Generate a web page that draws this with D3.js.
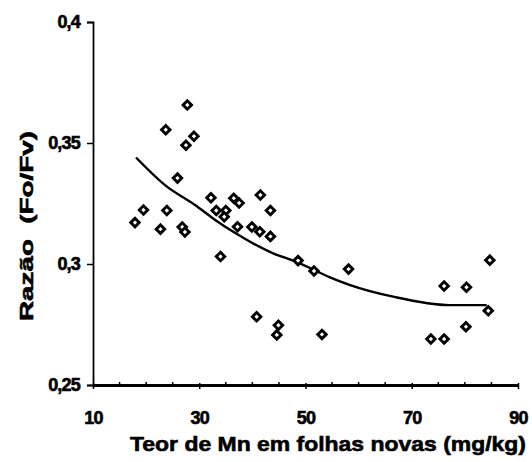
<!DOCTYPE html>
<head>
  <style>
    body { margin: 0; background: #fff; }
    text { font-family: "Liberation Sans", Arial, sans-serif; font-weight: bold; fill: #000; stroke: #000; stroke-width: 0.6px; }
  </style>
</head>
<title>Razão Fo/Fv x Teor de Mn</title>
<body>
<script src="https://cdn.jsdelivr.net/npm/d3@7"></script>
<script>

    // pontos
    var mn = [17.9, 19.5, 22.7, 23.9, 26.8, 27.3, 23.7, 27.75, 27.5, 29.0,
              25.9, 32.2, 36.5, 37.5, 41.5, 33.2, 35.0, 34.7, 37.2, 39.9,
              41.4, 43.4, 43.4, 34.0, 48.6, 51.6, 58.1, 40.8, 44.9, 44.6,
              53.1, 76.1, 80.3, 84.7, 84.4, 80.2, 73.6, 76.1];
    var razao = [0.3171, 0.3223, 0.3144, 0.3221, 0.3153, 0.3132, 0.3555, 0.3657, 0.3491, 0.3528,
                 0.3355, 0.3274, 0.3272, 0.3252, 0.3285, 0.3221, 0.3221, 0.3195, 0.3154, 0.3153,
                 0.3133, 0.3221, 0.3114, 0.3031, 0.3014, 0.2971, 0.2979, 0.2782, 0.2747, 0.2707,
                 0.2709, 0.2909, 0.2904, 0.3016, 0.2807, 0.2741, 0.2690, 0.2690];

    // linha de tendencia
    var trendMn = [18.1, 23.55, 29.2, 33.0, 36.4, 43.9, 48.3, 54.6, 58.4, 66.5, 77.2, 84.1];
    var trendRazao = [0.3440, 0.3326, 0.3244, 0.3182, 0.3133, 0.3044, 0.3009, 0.2945, 0.2913, 0.2865, 0.2830, 0.2830];

    var xTicks = [10, 30, 50, 70, 90];
    var xMinorTicks = [15, 20, 25, 35, 40, 45, 55, 60, 65, 75, 80, 85];
    var yTicks = [0.25, 0.3, 0.35, 0.4];
    var yTickLabels = ["0,25", "0,3", "0,35", "0,4"];

    var m = {t: 22, r: 14, b: 77, l: 93};
    var w = 532 - m.l - m.r;
    var h = 462 - m.t - m.b;

    var x = d3.scaleLinear().range([0, w]).domain([10, 90]);
    var y = d3.scaleLinear().range([h, 0]).domain([0.25, 0.4]);

    var svg = d3.select("body")
                .append("svg")
                  .attr("width", w + m.l + m.r)
                  .attr("height", h + m.t + m.b)
                .append("g")
                  .attr("transform", "translate(" + m.l + "," + m.t + ")");

    // eixo Y
    var yAxis = d3.axisLeft(y)
                  .tickValues(yTicks)
                  .tickSize(6)
                  .tickPadding(7)
                  .tickFormat(function(d, i) { return yTickLabels[i]; });
    var gy = svg.append("g").attr("id", "y_axis").call(yAxis);
    gy.select(".domain").attr("stroke-width", 1.8);
    gy.selectAll(".tick line").attr("stroke-width", 1.5);
    gy.selectAll(".tick text")
        .style("font-size", "18px")
        .style("letter-spacing", "-0.8px")
        .attr("font-family", null);

    // eixo X
    var xAxis = d3.axisBottom(x)
                  .tickValues(xTicks)
                  .tickSizeInner(4)
                  .tickSizeOuter(0)
                  .tickPadding(22)
                  .tickFormat(d3.format("d"));
    var gx = svg.append("g")
        .attr("id", "x_axis")
        .attr("transform", "translate(0," + h + ")")
        .call(xAxis);
    gx.select(".domain").attr("stroke-width", 2.8);
    gx.selectAll(".tick line").attr("y1", -2).attr("stroke-width", 1.5);
    gx.selectAll(".tick text")
        .style("font-size", "18px")
        .style("letter-spacing", "-0.8px")
        .attr("font-family", null);

    // tracinhos menores do eixo X
    gx.selectAll(".minor")
        .data(xMinorTicks)
      .enter().append("line")
        .attr("class", "minor")
        .attr("x1", function(d) { return x(d); })
        .attr("x2", function(d) { return x(d); })
        .attr("y1", -3)
        .attr("y2", 0)
        .attr("stroke", "#000")
        .attr("stroke-width", 1.5);

    // linha de tendencia
    var trend = trendMn.map(function(d, i) { return [d, trendRazao[i]]; });
    svg.append("path")
        .datum(trend)
        .attr("fill", "none")
        .attr("stroke", "#000")
        .attr("stroke-width", 2.4)
        .attr("d", d3.line()
            .x(function(d) { return x(d[0]); })
            .y(function(d) { return y(d[1]); })
            .curve(d3.curveMonotoneX));

    // pontos (losangos)
    var diamond = d3.symbol().type(d3.symbolSquare).size(36);
    svg.selectAll(".pt")
        .data(mn)
      .enter().append("path")
        .attr("class", "pt")
        .attr("d", diamond)
        .attr("transform", function(d, i) {
          return "translate(" + x(d) + "," + y(razao[i]) + ") rotate(45)";
        })
        .attr("fill", "#fff")
        .attr("stroke", "#000")
        .attr("stroke-width", 2.9);

    // titulos dos eixos
    svg.append("text")
        .attr("id", "x_axis_label")
        .attr("x", 328 - m.l)
        .attr("y", 451 - m.t)
        .attr("text-anchor", "middle")
        .attr("textLength", 396)
        .attr("lengthAdjust", "spacingAndGlyphs")
        .style("font-size", "21px")
        .text("Teor de Mn em folhas novas (mg/kg)");

    svg.append("text")
        .attr("id", "y_axis_label")
        .attr("transform", "rotate(-90)")
        .attr("x", -(226 - m.t))
        .attr("y", 33 - m.l)
        .attr("text-anchor", "middle")
        .attr("textLength", 190)
        .attr("lengthAdjust", "spacingAndGlyphs")
        .style("font-size", "19px")
        .style("white-space", "pre")
        .text("Razão  (Fo/Fv)");

</script>
</body>
